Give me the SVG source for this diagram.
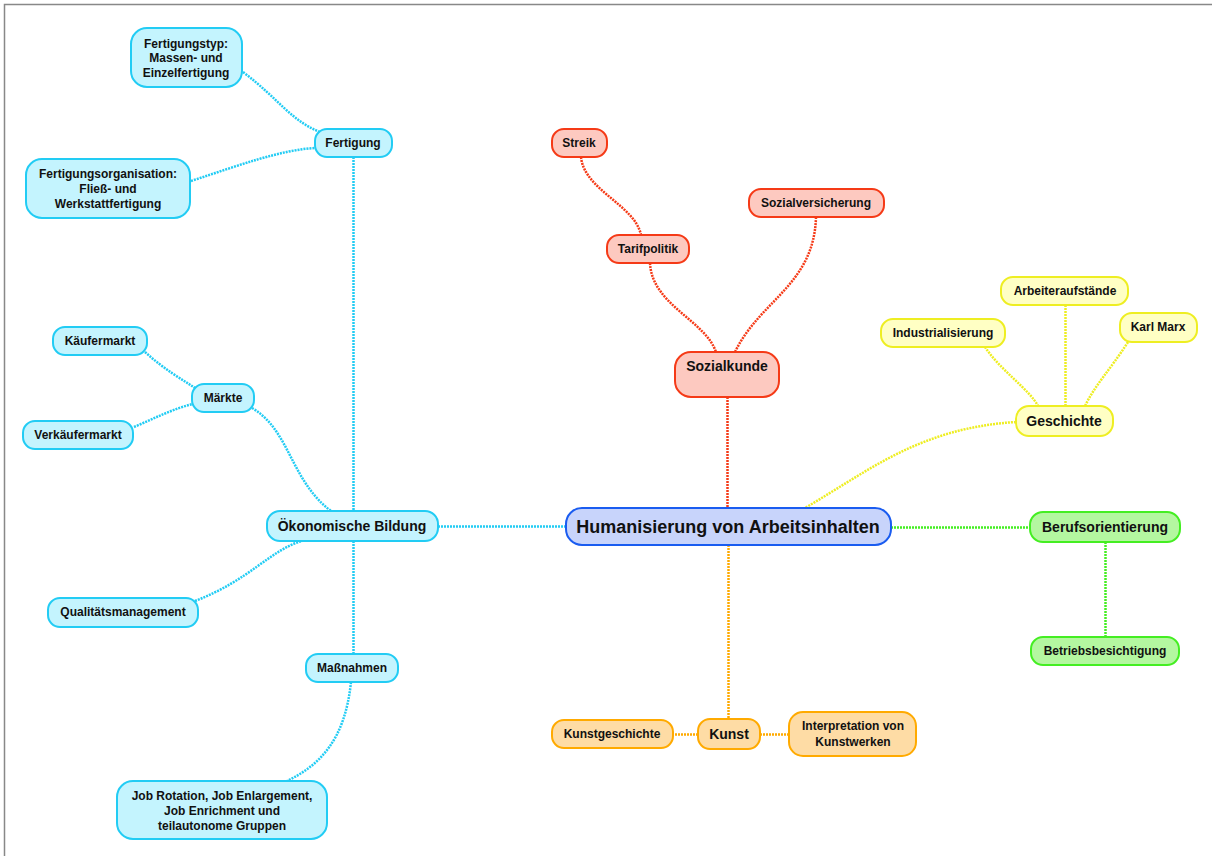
<svg xmlns="http://www.w3.org/2000/svg" width="1212" height="856" viewBox="0 0 1212 856">
<style>
text{font-family:"Liberation Sans",Arial,sans-serif;font-weight:bold;fill:#111;text-anchor:middle;dominant-baseline:central}
.s{font-size:12px}.m{font-size:14px}.l{font-size:18px}
.n rect{stroke-width:2}
.c path{fill:none;stroke-width:2.5;stroke-dasharray:2 1}
.blue rect{fill:#c4f4fe;stroke:#22ccf4}
.red rect{fill:#fdc9c0;stroke:#f53a17}
.yel rect{fill:#ffffc4;stroke:#eeee22}
.grn rect{fill:#b4f7a0;stroke:#44ee22}
.org rect{fill:#fedca5;stroke:#ffaa00}
.cb{stroke:#22ccf4}.cr{stroke:#f53a17}.cy{stroke:#eeee22}.cg{stroke:#44ee22}.co{stroke:#ffaa00}
</style>
<rect x="0" y="0" width="1212" height="856" fill="#fff"/>
<path d="M4.5,856 V4.5 H1212" fill="none" stroke="#888" stroke-width="1.5"/>
<g id="connectors" class="c">
<path class="cr" d="M727.5,397 V508"/>
<path class="cr" d="M581,157 C584,190 635,205 641,235"/>
<path class="cr" d="M650,263 C652,305 705,320 716,352"/>
<path class="cr" d="M816,217 C814,285 760,300 735,352"/>
<path class="cy" d="M1016,422 C920,428 870,470 805,508"/>
<path class="cy" d="M985,347 C1000,370 1030,390 1038,406"/>
<path class="cy" d="M1065.5,305 V406"/>
<path class="cy" d="M1128,342 C1110,370 1095,385 1085,406"/>
<path class="cg" d="M891,527.5 H1030"/>
<path class="cg" d="M1105.5,542 V637"/>
<path class="co" d="M728.5,545 V719"/>
<path class="co" d="M698,734.5 H673"/>
<path class="co" d="M760,734.5 H789"/>
<path class="cb" d="M566,526.5 H438"/>
<path class="cb" d="M353.5,157 V511"/>
<path class="cb" d="M353.5,541 V654"/>
<path class="cb" d="M243,72 C280,100 290,120 320,132"/>
<path class="cb" d="M191,181 C240,165 280,150 315,148"/>
<path class="cb" d="M145,352 C165,370 180,378 195,388"/>
<path class="cb" d="M134,427 C155,418 175,408 193,404"/>
<path class="cb" d="M252,408 C290,430 290,480 331,511"/>
<path class="cb" d="M195,601 C250,580 270,550 302,541"/>
<path class="cb" d="M351,682 C345,740 320,765 287,781"/>
</g>
<g id="n-center" class="n"><rect x="566" y="508" width="325" height="37" rx="16" fill="#c8d4fb" stroke="#1a5cf0"/><text class="l" x="728" y="527">Humanisierung von Arbeitsinhalten</text></g>
<g id="n-sozialkunde" class="n red"><rect x="675" y="352" width="104" height="45" rx="16"/><text class="m" x="727" y="366">Sozialkunde</text></g>
<g id="n-streik" class="n red"><rect x="552" y="129" width="55" height="28" rx="12"/><text class="s" x="579" y="143">Streik</text></g>
<g id="n-tarifpolitik" class="n red"><rect x="607" y="235" width="82" height="28" rx="12"/><text class="s" x="648" y="249">Tarifpolitik</text></g>
<g id="n-sozialversicherung" class="n red"><rect x="749" y="189" width="135" height="28" rx="12"/><text class="s" x="816" y="203">Sozialversicherung</text></g>
<g id="n-geschichte" class="n yel"><rect x="1016" y="406" width="97" height="30" rx="13"/><text class="m" x="1064" y="421">Geschichte</text></g>
<g id="n-industrialisierung" class="n yel"><rect x="881" y="319" width="124" height="28" rx="12"/><text class="s" x="943" y="333">Industrialisierung</text></g>
<g id="n-arbeiteraufstaende" class="n yel"><rect x="1001" y="277" width="127" height="28" rx="12"/><text class="s" x="1065" y="291">Arbeiteraufstände</text></g>
<g id="n-karlmarx" class="n yel"><rect x="1120" y="313" width="77" height="29" rx="12"/><text class="s" x="1158" y="327">Karl Marx</text></g>
<g id="n-berufsorientierung" class="n grn"><rect x="1030" y="512" width="150" height="30" rx="13"/><text class="m" x="1105" y="527">Berufsorientierung</text></g>
<g id="n-betriebsbesichtigung" class="n grn"><rect x="1031" y="637" width="148" height="28" rx="12"/><text class="s" x="1105" y="651">Betriebsbesichtigung</text></g>
<g id="n-kunst" class="n org"><rect x="698" y="719" width="62" height="30" rx="12"/><text class="m" x="729" y="734">Kunst</text></g>
<g id="n-kunstgeschichte" class="n org"><rect x="552" y="720" width="121" height="28" rx="12"/><text class="s" x="612" y="734">Kunstgeschichte</text></g>
<g id="n-interpretation" class="n org"><rect x="789" y="712" width="127" height="44" rx="14"/><text class="s" x="853" y="726">Interpretation von</text><text class="s" x="853" y="742">Kunstwerken</text></g>
<g id="n-oekonomische" class="n blue"><rect x="267" y="511" width="171" height="30" rx="13"/><text class="m" x="352" y="526">Ökonomische Bildung</text></g>
<g id="n-fertigung" class="n blue"><rect x="315" y="129" width="77" height="28" rx="12"/><text class="s" x="353" y="143">Fertigung</text></g>
<g id="n-fertigungstyp" class="n blue"><rect x="131" y="28" width="111" height="59" rx="16"/><text class="s" x="186" y="44">Fertigungstyp:</text><text class="s" x="186" y="58">Massen- und</text><text class="s" x="186" y="73">Einzelfertigung</text></g>
<g id="n-fertigungsorganisation" class="n blue"><rect x="26" y="159" width="164" height="59" rx="16"/><text class="s" x="108" y="174">Fertigungsorganisation:</text><text class="s" x="108" y="189">Fließ- und</text><text class="s" x="108" y="204">Werkstattfertigung</text></g>
<g id="n-maerkte" class="n blue"><rect x="192" y="384" width="62" height="28" rx="12"/><text class="s" x="223" y="398">Märkte</text></g>
<g id="n-kaeufermarkt" class="n blue"><rect x="53" y="327" width="94" height="28" rx="12"/><text class="s" x="100" y="341">Käufermarkt</text></g>
<g id="n-verkaeufermarkt" class="n blue"><rect x="23" y="421" width="110" height="28" rx="12"/><text class="s" x="78" y="435">Verkäufermarkt</text></g>
<g id="n-qualitaet" class="n blue"><rect x="48" y="598" width="150" height="29" rx="12"/><text class="s" x="123" y="612">Qualitätsmanagement</text></g>
<g id="n-massnahmen" class="n blue"><rect x="306" y="654" width="92" height="28" rx="12"/><text class="s" x="352" y="668">Maßnahmen</text></g>
<g id="n-job" class="n blue"><rect x="117" y="781" width="210" height="58" rx="16"/><text class="s" x="222" y="796">Job Rotation, Job Enlargement,</text><text class="s" x="222" y="811">Job Enrichment und</text><text class="s" x="222" y="826">teilautonome Gruppen</text></g>
</svg>
